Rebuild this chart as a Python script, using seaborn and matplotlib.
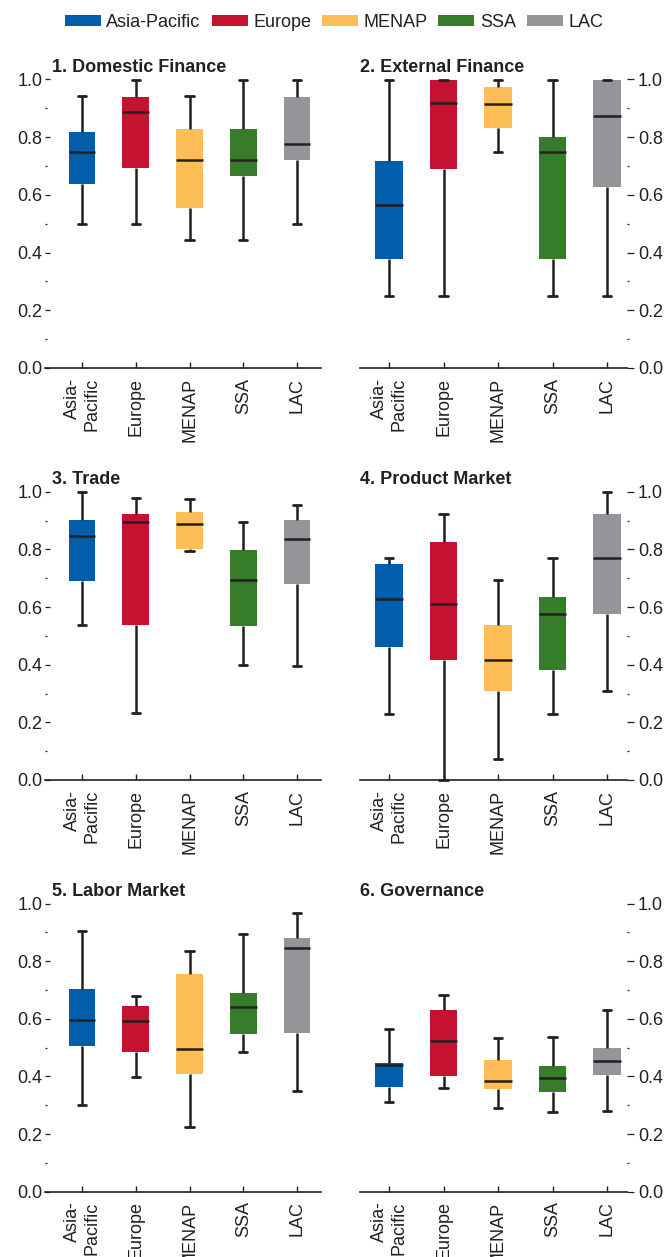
import numpy as np
import pandas as pd
import matplotlib
matplotlib.use("Agg")
import matplotlib.pyplot as plt
from matplotlib.patches import Patch
from matplotlib.ticker import MultipleLocator, FormatStrFormatter
import seaborn as sns

# ---------------- data ----------------
REGIONS = ["Asia-Pacific", "Europe", "MENAP", "SSA", "LAC"]
TICK_LABELS = ["Asia-\nPacific", "Europe", "MENAP", "SSA", "LAC"]
COLORS = ["#005EAD", "#C41230", "#FDBD57", "#367C2B", "#939598"]
TITLES = ["1. Domestic Finance", "2. External Finance", "3. Trade",
          "4. Product Market", "5. Labor Market", "6. Governance"]

# each row: [min, Q1, median, Q3, max] per region (order of REGIONS)
DOMESTIC_FINANCE = [[0.50, 0.639, 0.749, 0.817, 0.942],
                    [0.50, 0.694, 0.888, 0.941, 1.00],
                    [0.444, 0.556, 0.722, 0.830, 0.942],
                    [0.444, 0.667, 0.722, 0.830, 1.00],
                    [0.50, 0.722, 0.776, 0.941, 1.00]]
EXTERNAL_FINANCE = [[0.25, 0.377, 0.564, 0.718, 1.00],
                    [0.25, 0.689, 0.917, 1.00, 1.00],
                    [0.75, 0.831, 0.914, 0.975, 1.00],
                    [0.25, 0.377, 0.750, 0.801, 1.00],
                    [0.25, 0.627, 0.875, 1.00, 1.00]]
TRADE = [[0.538, 0.691, 0.846, 0.901, 1.00],
         [0.231, 0.539, 0.895, 0.921, 0.979],
         [0.794, 0.801, 0.888, 0.928, 0.975],
         [0.399, 0.535, 0.692, 0.797, 0.896],
         [0.397, 0.681, 0.835, 0.901, 0.953]]
PRODUCT_MARKET = [[0.229, 0.462, 0.629, 0.750, 0.770],
                  [0.000, 0.416, 0.612, 0.826, 0.924],
                  [0.074, 0.308, 0.417, 0.536, 0.692],
                  [0.229, 0.381, 0.577, 0.634, 0.770],
                  [0.307, 0.577, 0.770, 0.923, 1.00]]
LABOR_MARKET = [[0.301, 0.506, 0.595, 0.703, 0.905],
                [0.397, 0.486, 0.591, 0.646, 0.679],
                [0.225, 0.410, 0.494, 0.754, 0.836],
                [0.484, 0.548, 0.640, 0.691, 0.895],
                [0.350, 0.551, 0.844, 0.879, 0.968]]
GOVERNANCE = [[0.311, 0.362, 0.441, 0.448, 0.565],
              [0.360, 0.400, 0.522, 0.631, 0.681],
              [0.290, 0.358, 0.385, 0.458, 0.535],
              [0.278, 0.345, 0.393, 0.436, 0.538],
              [0.281, 0.404, 0.452, 0.499, 0.629]]
PANELS = [DOMESTIC_FINANCE, EXTERNAL_FINANCE, TRADE,
          PRODUCT_MARKET, LABOR_MARKET, GOVERNANCE]

# ---------------- style ----------------
sns.set_style("ticks")
TXT = "#231F20"
plt.rcParams["font.family"] = ["Liberation Sans Narrow", "Liberation Sans", "DejaVu Sans"]
plt.rcParams["text.color"] = TXT
plt.rcParams["axes.edgecolor"] = TXT
plt.rcParams["xtick.color"] = TXT
plt.rcParams["ytick.color"] = TXT
FS = 13

W, H = 668, 1257
fig = plt.figure(figsize=(W / 100, H / 100), dpi=100)
fig.patch.set_facecolor("white")

rows = [(368, 79.5), (780, 491.7), (1191.7, 903.5)]
cols = [dict(l=45, r=321, c0=82, c4=297, title_dx=7, side="left"),
        dict(l=360, r=627, c0=389, c4=607, title_dx=0, side="right")]

for i, panel in enumerate(PANELS):
    r, c = divmod(i, 2)
    ybot, ytop = rows[r]
    cc = cols[c]
    ax = fig.add_axes([cc["l"] / W, (H - ybot) / H, (cc["r"] - cc["l"]) / W, (ybot - ytop) / H])
    df = pd.DataFrame([(reg, v) for reg, stats in zip(REGIONS, panel) for v in stats],
                      columns=["region", "value"])
    sns.boxplot(data=df, x="region", y="value", hue="region", order=REGIONS,
                hue_order=REGIONS, palette=COLORS, saturation=1, width=0.5,
                whis=(0, 100), linecolor=TXT, linewidth=1.8, showfliers=False,
                legend=False, ax=ax)
    # styling of artists
    for p in ax.patches:
        p.set_linewidth(0)
        p.set_clip_on(False)
    for ln in ax.lines:
        ln.set_clip_on(False)
        xd, yd = np.asarray(ln.get_xdata(), float), np.asarray(ln.get_ydata(), float)
        if len(xd) == 2 and yd[0] == yd[1]:
            L = abs(xd[1] - xd[0])
            if 0.05 < L < 0.45:  # cap
                m = xd.mean()
                ln.set_xdata([m - 0.075, m + 0.075])
                ln.set_linewidth(2.0)
    scale = (cc["c4"] - cc["c0"]) / 4
    ax.set_xlim((cc["l"] - cc["c0"]) / scale, (cc["r"] - cc["c0"]) / scale)
    ax.set_ylim(0, 1)
    ax.set_xlabel("")
    ax.set_ylabel("")
    ax.set_facecolor("none")
    ax.set_xticks(range(5))
    ax.set_xticklabels(TICK_LABELS, rotation=90, ha="center", va="top",
                       multialignment="right", fontsize=FS)
    ax.yaxis.set_major_locator(MultipleLocator(0.2))
    ax.yaxis.set_minor_locator(MultipleLocator(0.1))
    ax.yaxis.set_major_formatter(FormatStrFormatter("%.1f"))
    for s in ["top", "left", "right"]:
        ax.spines[s].set_visible(False)
    ax.spines["bottom"].set_linewidth(1.2)
    ax.tick_params(axis="x", direction="in", length=4.5, width=1.0, pad=7)
    if cc["side"] == "left":
        ax.tick_params(axis="y", which="major", direction="in", length=3.6, width=0.9,
                       pad=2, labelsize=FS)
        ax.tick_params(axis="y", which="minor", direction="in", length=1.4, width=0.9)
    else:
        ax.yaxis.tick_right()
        ax.yaxis.set_label_position("right")
        ax.tick_params(axis="y", which="major", direction="out", length=4.8, width=0.9,
                       pad=3, labelsize=FS)
        ax.tick_params(axis="y", which="minor", direction="out", length=1.6, width=0.9)
    ax.text(cc["title_dx"] / (cc["r"] - cc["l"]), 1 + 8 / (ybot - ytop), TITLES[i],
            transform=ax.transAxes, ha="left", va="baseline", fontsize=FS,
            fontweight="bold")

handles = [Patch(facecolor=col, edgecolor="none", label=reg) for reg, col in zip(REGIONS, COLORS)]
fig.legend(handles=handles, loc="center", bbox_to_anchor=(0.5, 1 - 22.5 / H), ncol=5,
           frameon=False, fontsize=FS, handlelength=2.0, handleheight=0.55,
           handletextpad=0.3, columnspacing=0.6, borderaxespad=0, borderpad=0)

fig.savefig("out.png", dpi=100, facecolor="white")
